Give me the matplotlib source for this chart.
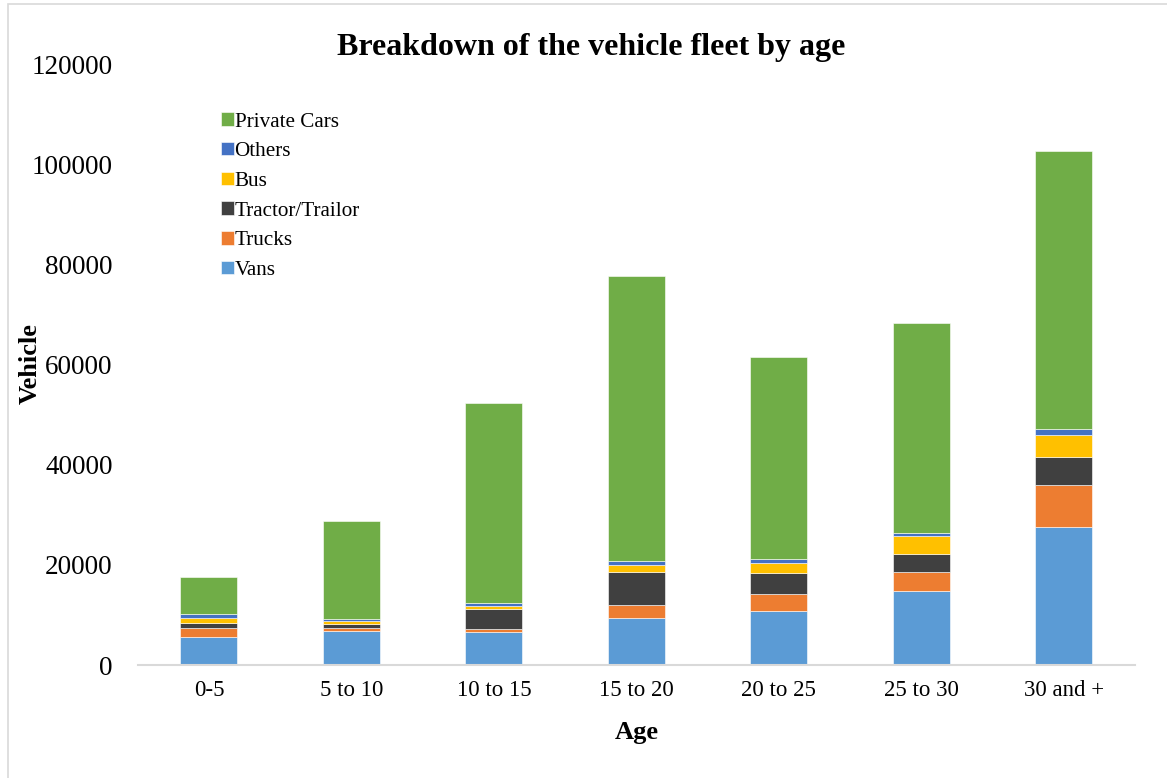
import numpy as np
import matplotlib.pyplot as plt
from matplotlib.patches import Rectangle

plt.rcParams['font.family'] = ['Liberation Serif', 'DejaVu Serif']

ages = ["0-5", "5 to 10", "10 to 15", "15 to 20", "20 to 25", "25 to 30", "30 and +"]
vans = [5500, 6700, 6650, 9350, 10800, 14800, 27600]
trucks = [1900, 750, 600, 2600, 3350, 3800, 8350]
tractor = [1000, 800, 3950, 6700, 4200, 3650, 5500]
bus = [1000, 600, 600, 1350, 2100, 3600, 4400]
others = [700, 400, 650, 750, 800, 600, 1200]
cars = [7400, 19550, 39900, 56850, 40350, 41750, 55550]

series = [("Vans", vans, "#5B9BD5"),
          ("Trucks", trucks, "#ED7D31"),
          ("Tractor/Trailor", tractor, "#404040"),
          ("Bus", bus, "#FFC000"),
          ("Others", others, "#4472C4"),
          ("Private Cars", cars, "#70AD47")]

fig = plt.figure(figsize=(11.67, 7.78), dpi=100)
ax = fig.add_axes([0.118, 0.1452, 0.8546, 0.7725])

x = np.arange(len(ages))
bottom = np.zeros(len(ages))
handles = []
for name, vals, col in series:
    b = ax.bar(x, vals, 0.4, bottom=bottom, color=col, label=name,
               edgecolor="white", linewidth=0.4)
    handles.append(b)
    bottom += np.array(vals)

ax.set_xlim(-0.5, len(ages) - 0.5)
ax.set_ylim(0, 120000)
ax.set_yticks(np.arange(0, 120001, 20000))
ax.set_xticks(x)
ax.set_xticklabels(ages, fontsize=16.5)
ax.tick_params(axis="y", labelsize=19.5, length=0, pad=18)
ax.tick_params(axis="x", length=0, pad=11)

for s in ["top", "right", "left"]:
    ax.spines[s].set_visible(False)
ax.spines["bottom"].set_color("#D9D9D9")
ax.spines["bottom"].set_linewidth(1.5)

ax.set_xlabel("Age", fontsize=19, fontweight="bold", labelpad=14)
fig.text(30 / 1167, 1 - 364 / 778, "Vehicle", rotation=90, ha="center",
         va="center", fontsize=19, fontweight="bold")
fig.text(591 / 1167, 1 - 47 / 778, "Breakdown of the vehicle fleet by age",
         ha="center", va="center", fontsize=23, fontweight="bold")

leg = ax.legend(handles[::-1], [s[0] for s in series][::-1], loc="upper left",
                bbox_to_anchor=(0.173, 0.88), bbox_transform=fig.transFigure,
                frameon=False, fontsize=15.2, handlelength=0.6, handleheight=0.6,
                handletextpad=0.05, labelspacing=0.5)

fig.patches.append(Rectangle((8 / 1167, -0.01), 1.1, (778 - 4) / 778 + 0.01,
                             transform=fig.transFigure, fill=False,
                             edgecolor="#D9D9D9", linewidth=1.2))

fig.savefig("out.png", dpi=100)
